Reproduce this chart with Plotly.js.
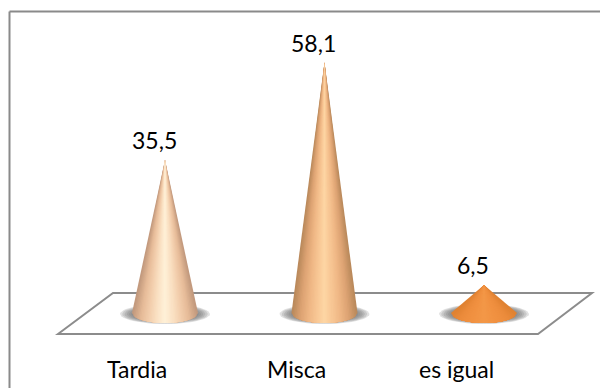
<!DOCTYPE html>
<html>
<head>
<meta charset="utf-8">
<script src="https://cdn.plot.ly/plotly-3.0.1.min.js"></script>
<style>html,body{margin:0;padding:0;background:#fff}#chart{width:600px;height:388px}</style>
</head>
<body>
<div id="chart"></div>
<script>
// Survey shares drawn as 3D-looking cones standing on a floor plane
const categories = ['Tardia', 'Misca', 'es igual'];
const values = [35.5, 58.1, 6.5];
const valueLabels = ['35,5', '58,1', '6,5'];

// Colour ramps per cone: rim first, central highlight last
const ramps = [
  ['#c39a7e', '#e6bb98', '#f3cfae', '#fbe3c6', '#fff3da'],
  ['#bb8a5c', '#dda373', '#efb785', '#f8c896', '#fed8a6'],
  ['#e08232', '#ec8c3c', '#f09040', '#f29444', '#f39848']
];

const W = 600, H = 388;
const baseY = 313, pxPerUnit = 4.31;
const firstX = 165, stepX = 159.5;
const xRange = [(0 - firstX) / stepX, (W - firstX) / stepX];
const yRange = [(baseY - H) / pxPerUnit, baseY / pxPerUnit];
const rx = 33 / stepX, ry = 10 / pxPerUnit;

const hexToRgb = h => [1, 3, 5].map(i => parseInt(h.slice(i, i + 2), 16));
function mix(ramp, t) {
  const p = t * (ramp.length - 1), i = Math.min(Math.floor(p), ramp.length - 2), f = p - i;
  const a = hexToRgb(ramp[i]), b = hexToRgb(ramp[i + 1]);
  return 'rgb(' + a.map((v, k) => Math.round(v + (b[k] - v) * f)).join(',') + ')';
}

const traces = [];

// Soft floor shadow: stacked translucent ellipses around each base
categories.forEach((c, i) => {
  for (let s = 0; s < 9; s++) {
    const k = 1 - s * 0.05, xs = [], ys = [];
    for (let a = 0; a <= 48; a++) {
      const th = a / 48 * 2 * Math.PI;
      xs.push(i + 45 / stepX * k * Math.cos(th));
      ys.push(-1 / pxPerUnit + 10 / pxPerUnit * k * Math.sin(th));
    }
    traces.push({x: xs, y: ys, mode: 'lines', fill: 'toself', fillcolor: 'rgba(105,105,105,0.2)',
      line: {width: 0}, hoverinfo: 'skip', showlegend: false});
  }
});

// Each cone is a nest of narrowing silhouettes, so the shading converges on the apex
categories.forEach((c, i) => {
  const layers = 22, ramp = ramps[i];
  for (let l = 0; l < layers; l++) {
    const t = l / layers, w = 1 - t, xs = [i], ys = [values[i]], n = 24;
    for (let a = 0; a <= n; a++) {
      const u = w * (1 - 2 * a / n);
      xs.push(i + rx * u);
      ys.push(-ry * Math.sqrt(Math.max(0, 1 - u * u)));
    }
    xs.push(i); ys.push(values[i]);
    traces.push({x: xs, y: ys, mode: 'lines', fill: 'toself', fillcolor: mix(ramp, t),
      line: {width: 0}, hoverinfo: 'skip', showlegend: false});
  }
});

const toX = x => (x - firstX) / stepX, toY = y => (baseY - y) / pxPerUnit;
const floorCorners = [[58, 334], [113, 293], [592, 293], [538, 334]];
const floorPath = 'M ' + floorCorners.map(p => toX(p[0]) + ' ' + toY(p[1])).join(' L ') + ' Z';
const frameLine = (x0, y0, x1, y1) => ({type: 'line', xref: 'x', yref: 'y', layer: 'below',
  x0: toX(x0), y0: toY(y0), x1: toX(x1), y1: toY(y1), line: {color: '#8a8a8a', width: 2}});

const font = {family: 'Lato, Carlito, sans-serif', size: 23, color: '#000'};
const layout = {
  width: W, height: H,
  margin: {l: 0, r: 0, t: 0, b: 0},
  paper_bgcolor: '#fff', plot_bgcolor: '#fff',
  showlegend: false,
  xaxis: {range: xRange, visible: false, fixedrange: true},
  yaxis: {range: yRange, visible: false, fixedrange: true},
  shapes: [
    frameLine(9.5, 11.5, 600, 11.5),
    frameLine(9.5, 11.5, 9.5, 388),
    {type: 'path', xref: 'x', yref: 'y', layer: 'below', line: {color: '#8c8c8c', width: 2}, path: floorPath}
  ],
  annotations: categories.map((c, i) => ({
    x: i, y: values[i], xref: 'x', yref: 'y', text: valueLabels[i], showarrow: false,
    xshift: -11, yshift: 20, yanchor: 'middle', xanchor: 'center', font
  })).concat(categories.map((c, i) => ({
    x: i, y: toY(369), xref: 'x', yref: 'y', text: c, showarrow: false,
    xanchor: 'center', yanchor: 'middle', xshift: -28, font
  })))
};

Plotly.newPlot('chart', traces, layout, {staticPlot: true, displayModeBar: false});
</script>
</body>
</html>
